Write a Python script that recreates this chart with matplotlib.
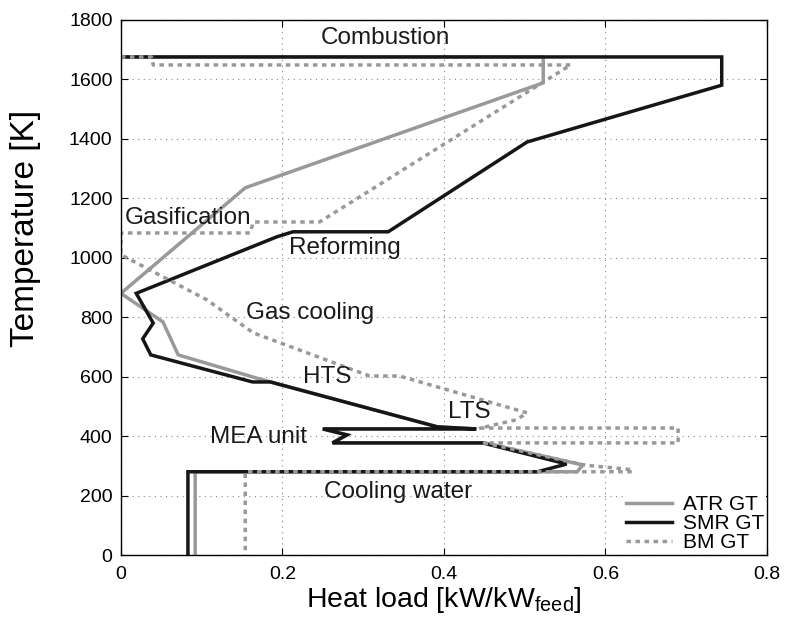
import matplotlib
matplotlib.use("Agg")
import matplotlib.pyplot as plt

plt.rcParams['font.family'] = ['Liberation Sans', 'DejaVu Sans']
plt.rcParams['mathtext.fontset'] = 'custom'
plt.rcParams['mathtext.rm'] = 'Liberation Sans'
plt.rcParams['mathtext.it'] = 'Liberation Sans'

# Grand composite curves: cumulative heat load [kW/kW_feed] vs temperature [K]
atr_q = [0, 0.523, 0.523, 0.154, 0, 0.052, 0.071, 0.168, 0.392, 0.440, 0.250, 0.280,
         0.262, 0.450, 0.572, 0.565, 0.092, 0.092]
atr_t = [1675, 1675, 1588, 1235, 880, 784, 673, 595, 431, 424, 424, 404,
         377, 377, 303, 280, 280, 0]

smr_q = [0, 0.744, 0.744, 0.503, 0.331, 0.213, 0.193, 0.019, 0.040, 0.027, 0.037, 0.163,
         0.185, 0.392, 0.440, 0.250, 0.280, 0.262, 0.448, 0.552, 0.516, 0.083, 0.083]
smr_t = [1675, 1675, 1580, 1389, 1087, 1087, 1070, 880, 780, 727, 673, 582,
         582, 431, 424, 424, 404, 377, 377, 306, 280, 280, 0]

bm_q = [0, 0.038, 0.040, 0.557, 0.246, 0.164, 0.160, 0, 0, 0.1065, 0.164, 0.308, 0.345,
        0.503, 0.49, 0.445, 0.69, 0.69, 0.45, 0.575, 0.633, 0.633, 0.154, 0.154]
bm_t = [1675, 1675, 1648, 1648, 1120, 1120, 1083, 1083, 1010, 858, 747, 602, 602,
        478, 455, 427, 427, 377, 377, 302, 287, 280, 280, 0]

series_names = ['ATR GT', 'SMR GT', 'BM GT']

region_labels = ['Combustion', 'Gasification', 'Reforming', 'Gas cooling', 'HTS',
                 'LTS', 'MEA unit', 'Cooling water']
label_q = [0.327, 0.083, 0.277, 0.234, 0.256, 0.432, 0.170, 0.343]
label_t = [1739, 1134, 1033, 814, 599, 481, 397, 212]

x_ticks = [0, 0.2, 0.4, 0.6, 0.8]
x_tick_labels = ['0', '0.2', '0.4', '0.6', '0.8']
y_ticks = list(range(0, 1801, 200))

DPI = 100
fig = plt.figure(figsize=(7.85, 6.26), dpi=DPI)
ax = fig.add_axes([0.154, 0.1134, 0.823, 0.855])

gray = '#999999'
ax.plot(atr_q, atr_t, color=gray, lw=2.5, label=series_names[0], solid_joinstyle='miter')
ax.plot(smr_q, smr_t, color='#161616', lw=2.5, label=series_names[1], solid_joinstyle='miter')
ax.plot(bm_q, bm_t, color=gray, lw=2.5, ls=(0, (1.3, 1.3)), label=series_names[2])

for txt, q, t in zip(region_labels, label_q, label_t):
    ax.text(q, t, txt, ha='center', va='center', fontsize=17.5, color='#1a1a1a')

ax.set_xlim(0, 0.8)
ax.set_ylim(0, 1800)
ax.set_xticks(x_ticks)
ax.set_xticklabels(x_tick_labels)
ax.set_yticks(y_ticks)
ax.tick_params(direction='in', top=True, right=True, labelsize=14, length=5,
               width=0.8)
ax.tick_params(axis='x', pad=8)
ax.tick_params(axis='y', pad=6)
ax.grid(True, ls=(0, (1, 4)), color='#888888', lw=0.8)
for s in ax.spines.values():
    s.set_linewidth(1.0)

ax.set_xlabel(r'Heat load [kW/kW$_{\mathrm{feed}}$]', fontsize=20.5, labelpad=1)
ax.set_ylabel('Temperature [K]', fontsize=24)
ax.yaxis.set_label_coords(-0.124, 0.61)

ax.legend(loc='lower right', fontsize=15, frameon=True, fancybox=False,
          edgecolor='none', facecolor='white', framealpha=1.0,
          handlelength=2.2, handletextpad=0.5, labelspacing=0.0,
          borderpad=0.1, borderaxespad=0.05)

fig.savefig('out.png', dpi=DPI)
